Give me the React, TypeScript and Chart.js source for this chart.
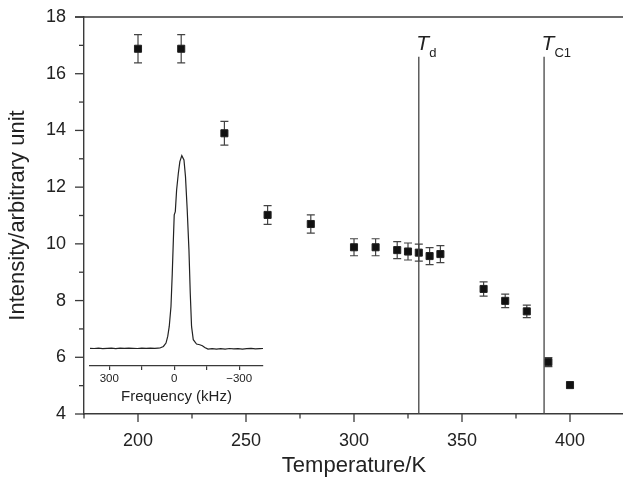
import React, { useEffect, useRef } from 'react';
import { Chart, registerables } from 'chart.js';

Chart.register(...registerables);

// ---- Main data ----
const temperatures = [200, 220, 240, 260, 280, 300, 310, 320, 325, 330, 335, 340, 360, 370, 380, 390, 400];
const intensities = [16.88, 16.88, 13.9, 11.02, 10.7, 9.88, 9.88, 9.78, 9.73, 9.69, 9.57, 9.64, 8.41, 7.99, 7.62, 5.83, 5.02];
const errors = [0.5, 0.5, 0.42, 0.33, 0.32, 0.3, 0.3, 0.3, 0.3, 0.3, 0.3, 0.3, 0.25, 0.24, 0.22, 0.16, 0.1];

const xTicks = [175, 200, 225, 250, 275, 300, 325, 350, 375, 400, 425];
const xLabelled = [200, 250, 300, 350, 400];
const yTicks = [4, 5, 6, 7, 8, 9, 10, 11, 12, 13, 14, 15, 16, 17, 18];
const yLabelled = [4, 6, 8, 10, 12, 14, 16, 18];

const transitionTemps = [330, 388];
const transitionSubs = ['d', 'C1'];
const transitionTop = 16.6;

// ---- Inset spectrum data ----
const freqKHz = [389, 370, 350, 330, 310, 290, 270, 250, 230, 210, 190, 170, 150, 130, 110, 90, 75, 66, 50, 38, 30, 23, 15, 9, 4, 0, -5, -11, -19, -26, -35, -45, -52, -60, -68, -74, -80, -88, -103, -118, -130, -141, -156, -175, -195, -215, -235, -255, -275, -295, -315, -335, -355, -375, -395, -410];
const spectrum = [0.4, 0.2, 0.5, 0.1, 0.4, 0.6, 0.2, 0.5, 0.3, 0.6, 0.4, 0.2, 0.5, 0.3, 0.6, 0.4, 0.6, 0.7, 2.3, 5.7, 12.3, 22.3, 42.3, 75.7, 109, 134, 137.3, 159, 175.7, 187.3, 193.3, 189, 172.3, 139, 99, 55.7, 22.3, 9, 4.7, 4, 3, 1.3, -0.3, 0, -0.4, 0.1, -0.3, 0.2, -0.2, 0.1, -0.4, 0, 0.3, -0.2, 0.1, 0.2];
const insetTicks = [-300, -150, 0, 150, 300];
const insetLabelled = [-300, 0, 300];

const FONT = '"Liberation Sans", Arial, Helvetica, sans-serif';
const TEXT = '#222';
const AXIS = '#3a3a3a';

const overlayPlugin = {
  id: 'overlay',
  beforeDatasetsDraw(chart: any) {
    const { ctx } = chart;
    const xs = chart.scales.x;
    const ys = chart.scales.y;
    ctx.save();
    ctx.strokeStyle = '#444';
    ctx.lineWidth = 1.2;
    temperatures.forEach((t, i) => {
      const e = errors[i];
      const px = xs.getPixelForValue(t);
      const top = ys.getPixelForValue(intensities[i] + e);
      const bot = ys.getPixelForValue(intensities[i] - e);
      ctx.beginPath();
      ctx.moveTo(px, top);
      ctx.lineTo(px, bot);
      ctx.moveTo(px - 4, top);
      ctx.lineTo(px + 4, top);
      ctx.moveTo(px - 4, bot);
      ctx.lineTo(px + 4, bot);
      ctx.stroke();
    });
    ctx.restore();
  },
  afterDraw(chart: any) {
    const { ctx, chartArea } = chart;
    const xs = chart.scales.x;
    const ys = chart.scales.y;
    ctx.save();
    ctx.strokeStyle = AXIS;
    ctx.lineWidth = 1.4;
    // top frame
    ctx.beginPath();
    ctx.moveTo(chartArea.left - 9, chartArea.top);
    ctx.lineTo(chartArea.right, chartArea.top);
    ctx.stroke();
    // x tick marks
    ctx.lineWidth = 1.3;
    xTicks.forEach((v) => {
      const px = xs.getPixelForValue(v);
      const len = xLabelled.includes(v) ? 8 : 4.5;
      ctx.beginPath();
      ctx.moveTo(px, chartArea.bottom);
      ctx.lineTo(px, chartArea.bottom + len);
      ctx.stroke();
    });
    // y tick marks
    yTicks.forEach((v) => {
      const py = ys.getPixelForValue(v);
      const len = yLabelled.includes(v) ? 9 : 5;
      ctx.beginPath();
      ctx.moveTo(chartArea.left, py);
      ctx.lineTo(chartArea.left - len, py);
      ctx.stroke();
    });
    // transition lines
    ctx.strokeStyle = '#444';
    ctx.lineWidth = 1.3;
    transitionTemps.forEach((t, i) => {
      const px = xs.getPixelForValue(t);
      const top = ys.getPixelForValue(transitionTop);
      ctx.beginPath();
      ctx.moveTo(px, top);
      ctx.lineTo(px, chartArea.bottom);
      ctx.stroke();
      ctx.fillStyle = TEXT;
      ctx.textBaseline = 'alphabetic';
      ctx.textAlign = 'left';
      ctx.font = `italic 21px ${FONT}`;
      const tx = px - 2.5;
      ctx.fillText('T', tx, top - 7);
      const w = ctx.measureText('T').width;
      ctx.font = `13px ${FONT}`;
      ctx.fillText(transitionSubs[i], tx + w, top);
    });
    ctx.restore();
  },
};

export default function App() {
  const mainRef = useRef<HTMLCanvasElement>(null);
  const insetRef = useRef<HTMLCanvasElement>(null);

  useEffect(() => {
    const main = new Chart(mainRef.current as HTMLCanvasElement, {
      type: 'scatter',
      data: {
        datasets: [
          {
            data: temperatures.map((t, i) => ({ x: t, y: intensities[i] })),
            pointStyle: 'rect',
            pointRadius: 5,
            backgroundColor: '#111',
            borderColor: '#222',
            borderWidth: 1,
          },
        ],
      },
      options: {
        animation: false,
        responsive: false,
        maintainAspectRatio: false,
        layout: { padding: { top: 17, right: 2, left: 0, bottom: 0 } },
        plugins: { legend: { display: false }, tooltip: { enabled: false } },
        scales: {
          x: {
            type: 'linear',
            min: 175,
            max: 425,
            afterBuildTicks: (s: any) => {
              s.ticks = xTicks.map((v) => ({ value: v }));
            },
            afterFit: (s: any) => {
              s.height = 65;
              s.paddingLeft = 0;
              s.paddingRight = 0;
            },
            ticks: {
              autoSkip: false,
              maxRotation: 0,
              padding: 16,
              color: TEXT,
              font: { family: FONT, size: 18 },
              callback: (v: any) => (xLabelled.includes(Number(v)) ? String(v) : ''),
            },
            grid: { display: false, drawTicks: false },
            border: { display: true, color: AXIS, width: 1.4 },
            title: {
              display: true,
              text: 'Temperature/K',
              color: TEXT,
              font: { family: FONT, size: 22 },
              padding: { top: 0, bottom: 0 },
            },
          },
          y: {
            type: 'linear',
            min: 4,
            max: 18,
            afterBuildTicks: (s: any) => {
              s.ticks = yTicks.map((v) => ({ value: v }));
            },
            afterFit: (s: any) => {
              s.width = 84;
              s.paddingTop = 0;
              s.paddingBottom = 0;
            },
            ticks: {
              autoSkip: false,
              padding: 18,
              color: TEXT,
              font: { family: FONT, size: 18 },
              callback: (v: any) => (yLabelled.includes(Number(v)) ? String(v) : ''),
            },
            grid: { display: false, drawTicks: false },
            border: { display: true, color: AXIS, width: 1.4 },
            title: {
              display: true,
              text: 'Intensity/arbitrary unit',
              color: TEXT,
              font: { family: FONT, size: 22 },
              padding: { top: 5, bottom: 0 },
            },
          },
        },
      },
      plugins: [overlayPlugin],
    });

    const inset = new Chart(insetRef.current as HTMLCanvasElement, {
      type: 'line',
      data: {
        datasets: [
          {
            data: freqKHz.map((f, i) => ({ x: f, y: spectrum[i] })),
            borderColor: '#222',
            borderWidth: 1.2,
            pointRadius: 0,
            tension: 0,
            fill: false,
          },
        ],
      },
      options: {
        animation: false,
        responsive: false,
        maintainAspectRatio: false,
        layout: { padding: { top: 0, right: 7, left: 5, bottom: 0 } },
        plugins: { legend: { display: false }, tooltip: { enabled: false } },
        scales: {
          x: {
            type: 'linear',
            reverse: true,
            min: -410,
            max: 389,
            afterBuildTicks: (s: any) => {
              s.ticks = insetTicks.map((v) => ({ value: v }));
            },
            afterFit: (s: any) => {
              s.height = 44;
              s.paddingLeft = 0;
              s.paddingRight = 0;
            },
            ticks: {
              autoSkip: false,
              maxRotation: 0,
              padding: 2,
              color: TEXT,
              font: { family: FONT, size: 11.5 },
              callback: (v: any) => {
                const n = Number(v);
                if (!insetLabelled.includes(n)) return '';
                return n < 0 ? '\u2212' + Math.abs(n) : String(n);
              },
            },
            grid: { display: true, drawOnChartArea: false, drawTicks: true, tickLength: 4, color: AXIS, lineWidth: 1.2 },
            border: { display: true, color: AXIS, width: 1.2 },
            title: {
              display: true,
              text: 'Frequency (kHz)',
              color: TEXT,
              font: { family: FONT, size: 15 },
              padding: { top: 0, bottom: 4 },
            },
          },
          y: {
            type: 'linear',
            display: false,
            min: -17.3,
            max: 209,
          },
        },
      },
    });

    return () => {
      main.destroy();
      inset.destroy();
    };
  }, []);

  return (
    <div
      style={{
        position: 'fixed',
        left: 0,
        top: 0,
        width: 623,
        height: 479,
        overflow: 'hidden',
        background: '#fff',
      }}
    >
      <canvas ref={mainRef} width={630} height={479} style={{ position: 'absolute', left: 0, top: 0, width: 630, height: 479 }} />
      <canvas ref={insetRef} width={185} height={270} style={{ position: 'absolute', left: 85, top: 140, width: 185, height: 270 }} />
    </div>
  );
}
